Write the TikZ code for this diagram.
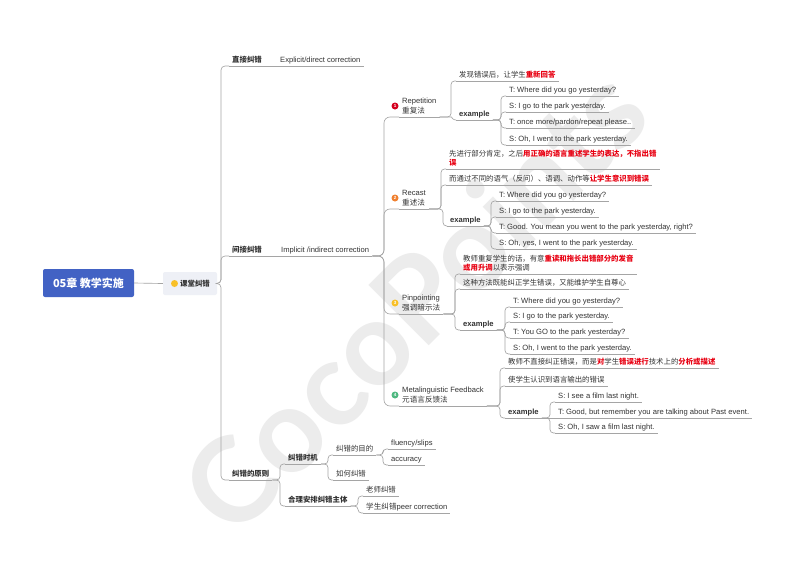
\documentclass[tikz,border=0pt]{standalone}
\usepackage{fontspec}
\setmainfont{Liberation Sans}
\newfontfamily\cjk{Noto Sans CJK SC}
\newfontfamily\wmfont{Lato}
\usetikzlibrary{calc}
\definecolor{textgray}{RGB}{51,51,51}
\definecolor{linegray}{RGB}{165,165,165}
\definecolor{hlred}{RGB}{232,0,18}
\definecolor{rootblue}{RGB}{66,98,196}
\definecolor{kbg}{RGB}{238,240,246}
\definecolor{wmgray}{RGB}{236,236,236}
\definecolor{icred}{RGB}{212,0,30}
\definecolor{icorange}{RGB}{240,128,48}
\definecolor{icyellow}{RGB}{248,192,40}
\definecolor{icgreen}{RGB}{78,184,128}
\newcommand\hl[1]{\textcolor{hlred}{\bfseries #1}}
\newcommand\cn[3][5pt]{\draw[conn] (#2.south east) -- ([xshift=-#1]#3.south west |- #2.south east) |- (#3.south west);}
\begin{document}
\begin{tikzpicture}[x=1pt,y=-1pt,
  conn/.style={draw=linegray,line width=0.65pt,rounded corners=3.5pt},
  uline/.style={draw=linegray,line width=0.65pt},
  lab/.style={anchor=south west,inner xsep=3pt,inner ysep=1.2pt,text depth=2pt,align=left,text=textgray},
  en/.style={lab,font=\fontsize{7.6}{10}\selectfont},
  enb/.style={lab,font=\bfseries\fontsize{7.6}{10}\selectfont},
  zh/.style={lab,font=\cjk\fontsize{7.4}{9.2}\selectfont},
  zhb/.style={lab,font=\cjk\bfseries\fontsize{7.4}{9.2}\selectfont},
  icon/.style={circle,inner sep=0pt,minimum size=7pt,text=white,font=\bfseries\fontsize{4.5}{5}\selectfont},
  wm/.style={text=wmgray,font=\wmfont\bfseries\fontsize{118}{118}\selectfont,rotate=45,inner sep=0pt}
]
\useasboundingbox (0,0) rectangle (800,566);
\fill[white] (0,0) rectangle (800,566);
\node[wm] (wm) at (414,300) {CocoPoints};

% root and level 1
\node[fill=rootblue,text=white,rounded corners=2pt,minimum width=91pt,minimum height=28pt,inner sep=0pt,font=\cjk\bfseries\fontsize{11}{13}\selectfont] (root) at (88.5,283) {05章 教学实施};
\node[fill=kbg,rounded corners=2pt,minimum width=54pt,minimum height=23pt,inner sep=0pt,text=textgray,font=\cjk\bfseries\fontsize{7.4}{9}\selectfont] (k) at (190,283.5) {\hspace*{10pt}课堂纠错};
\node[icon,fill=icyellow] (ki) at (174.5,283.5) {};

% level 2
\node[zhb] (zj) at (229,66) {直接纠错};
\node[en] (ex) at (277,66) {Explicit/direct correction};
\node[zhb] (jj) at (229,256) {间接纠错};
\node[en] (im) at (278,256) {Implicit /indirect correction};
\node[zhb] (yz) at (229,480) {纠错的原则};

% methods
\node[en] (m1) at (399,117) {Repetition\\{\cjk 重复法}};
\node[en] (m2) at (399,209) {Recast\\{\cjk 重述法}};
\node[en] (m3) at (399,314) {Pinpointing\\{\cjk 强调暗示法}};
\node[en] (m4) at (399,406) {Metalinguistic Feedback\\{\cjk 元语言反馈法}};
\node[icon,fill=icred] (i1) at (395,106) {1};
\node[icon,fill=icorange] (i2) at (395,198) {2};
\node[icon,fill=icyellow] (i3) at (395,303) {3};
\node[icon,fill=icgreen] (i4) at (395,395) {4};

% repetition
\node[zh] (r1) at (456,81) {发现错误后，让学生\hl{重新回答}};
\node[enb] (re) at (456,120) {example};
\node[en] (re1) at (506,96) {T: Where did you go yesterday?};
\node[en] (re2) at (506,112) {S: I go to the park yesterday.};
\node[en] (re3) at (506,128) {T: once more/pardon/repeat please..};
\node[en] (re4) at (506,145) {S: Oh, I went to the park yesterday.};

% recast
\node[zh] (c1) at (446,169) {先进行部分肯定，之后\hl{用正确的语言重述学生的表达，不指出错}\\\hl{误}};
\node[zh] (c2) at (446,185) {而通过不同的语气（反问）、语调、动作等\hl{让学生意识到错误}};
\node[enb] (ce) at (447,226) {example};
\node[en] (ce1) at (496,201) {T: Where did you go yesterday?};
\node[en] (ce2) at (496,217) {S: I go to the park yesterday.};
\node[en] (ce3) at (496,233) {T: Good. You mean you went to the park yesterday, right?};
\node[en] (ce4) at (496,249) {S: Oh, yes, I went to the park yesterday.};

% pinpointing
\node[zh] (p1) at (460,274) {教师重复学生的话，有意\hl{重读和拖长出错部分的发音}\\\hl{或用升调}以表示强调};
\node[zh] (p2) at (460,289) {这种方法既能纠正学生错误，又能维护学生自尊心};
\node[enb] (pe) at (460,330) {example};
\node[en] (pe1) at (510,307) {T: Where did you go yesterday?};
\node[en] (pe2) at (510,322) {S: I go to the park yesterday.};
\node[en] (pe3) at (510,338) {T: You GO to the park yesterday?};
\node[en] (pe4) at (510,354) {S: Oh, I went to the park yesterday.};

% metalinguistic
\node[zh] (g1) at (505,368) {教师不直接纠正错误，而是\hl{对}学生\hl{错误进行}技术上的\hl{分析或描述}};
\node[zh] (g2) at (505,386) {使学生认识到语言输出的错误};
\node[enb] (ge) at (505,418) {example};
\node[en] (ge1) at (555,402) {S: I see a film last night.};
\node[en] (ge2) at (555,418) {T: Good, but remember you are talking about Past event.};
\node[en] (ge3) at (555,433) {S: Oh, I saw a film last night.};

% principles
\node[zhb] (s1) at (285,464) {纠错时机};
\node[zhb] (s2) at (285,506) {合理安排纠错主体};
\node[zh] (s11) at (333,455) {纠错的目的};
\node[zh] (s12) at (333,480) {如何纠错};
\node[en] (s111) at (388,449) {fluency/slips};
\node[en] (s112) at (388,465) {accuracy};
\node[zh] (s21) at (363,496) {老师纠错};
\node[en] (s22) at (363,513) {{\cjk 学生纠错}peer correction};

% underlines
\foreach \n in {zj,ex,jj,im,yz,m1,m2,m3,m4,r1,re,re1,re2,re3,re4,c1,c2,ce,ce1,ce2,ce3,ce4,p1,p2,pe,pe1,pe2,pe3,pe4,g1,g2,ge,ge1,ge2,ge3,s1,s2,s11,s12,s111,s112,s21,s22}
  \draw[uline] (\n.south west) -- (\n.south east);

% connectors
\draw[conn] (root.east) -- (k.west);
\draw[conn,rounded corners=4pt] (k.east) -- ([xshift=-8pt]zj.south west |- k.east) |- (zj.south west);
\draw[conn,rounded corners=4pt] (k.east) -- ([xshift=-8pt]jj.south west |- k.east) |- (jj.south west);
\draw[conn,rounded corners=4pt] (k.east) -- ([xshift=-8pt]yz.south west |- k.east) |- (yz.south west);
\draw[conn] (zj.south east) -- (ex.south west);
\draw[conn] (jj.south east) -- (im.south west);
\draw[conn,rounded corners=6pt] (im.south east) -- ([xshift=-15pt]m1.south west |- im.south east) |- (m1.south west);
\draw[conn,rounded corners=6pt] (im.south east) -- ([xshift=-15pt]m2.south west |- im.south east) |- (m2.south west);
\draw[conn,rounded corners=6pt] (im.south east) -- ([xshift=-15pt]m3.south west |- im.south east) |- (m3.south west);
\draw[conn,rounded corners=6pt] (im.south east) -- ([xshift=-15pt]m4.south west |- im.south east) |- (m4.south west);
\cn{m1}{r1}
\draw[conn] (m1.south east) -- ([xshift=-8pt]re.south west |- m1.south east) to[out=0,in=180] (re.south west);
\cn{re}{re1}\cn{re}{re2}\cn{re}{re3}\cn{re}{re4}
\cn{m2}{c1}\cn{m2}{c2}\cn[4pt]{m2}{ce}
\cn{ce}{ce1}\cn{ce}{ce2}\cn{ce}{ce3}\cn{ce}{ce4}
\cn{m3}{p1}\cn{m3}{p2}\cn{m3}{pe}
\cn{pe}{pe1}\cn{pe}{pe2}\cn{pe}{pe3}\cn{pe}{pe4}
\cn{m4}{g1}\cn{m4}{g2}\cn{m4}{ge}
\cn{ge}{ge1}\draw[conn] (ge.south east) -- (ge2.south west);\cn{ge}{ge3}
\cn{yz}{s1}\cn{yz}{s2}
\cn{s1}{s11}\cn{s1}{s12}
\cn{s11}{s111}\cn{s11}{s112}
\cn{s2}{s21}\cn{s2}{s22}
\end{tikzpicture}
\end{document}
